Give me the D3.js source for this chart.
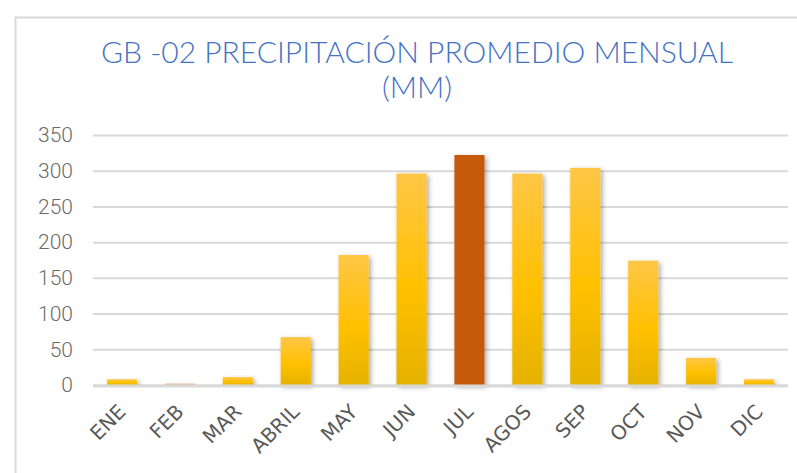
<!DOCTYPE html>
<html>
<head>
<meta charset="utf-8">
<script src="https://cdn.jsdelivr.net/npm/d3@7"></script>
<style>
  html, body { margin: 0; padding: 0; background: #fff; }
  svg { display: block; }
</style>
</head>
<body>
<svg id="chart" width="797" height="473"></svg>
<script>
// Monthly average precipitation (mm), station GB-02
const months = ["ENE", "FEB", "MAR", "ABRIL", "MAY", "JUN", "JUL", "AGOS", "SEP", "OCT", "NOV", "DIC"];
const precip = [8, 2, 11, 67, 182, 296, 322, 296, 304, 174, 38, 8];
const yTicks = [0, 50, 100, 150, 200, 250, 300, 350];
const titleLines = ["GB -02 PRECIPITACIÓN PROMEDIO MENSUAL", "(MM)"];

const W = 797, H = 473;
const margin = { left: 93, right: 9, top: 135, bottom: 88 };
const plotW = W - margin.left - margin.right;
const plotH = H - margin.top - margin.bottom;

const svg = d3.select("#chart");
const defs = svg.append("defs");

// gold gradient for regular bars
const grad = defs.append("linearGradient")
  .attr("id", "gold").attr("x1", 0).attr("y1", 0).attr("x2", 0).attr("y2", 1);
grad.append("stop").attr("offset", "0%").attr("stop-color", "#ffc646");
grad.append("stop").attr("offset", "55%").attr("stop-color", "#ffc000");
grad.append("stop").attr("offset", "100%").attr("stop-color", "#e5b200");

// soft drop shadow under the bars
const shadow = defs.append("filter").attr("id", "shadow")
  .attr("x", "-50%").attr("y", "-20%").attr("width", "200%").attr("height", "140%");
shadow.append("feDropShadow")
  .attr("dx", 2).attr("dy", 2).attr("stdDeviation", 2.5)
  .attr("flood-color", "#000").attr("flood-opacity", 0.35);

// outer chart frame
svg.append("rect")
  .attr("x", 15.5).attr("y", 17.5).attr("width", W + 10).attr("height", H + 10)
  .attr("fill", "none").attr("stroke", "#d9d9d9").attr("stroke-width", 2);

// title
svg.append("g").selectAll("text").data(titleLines).join("text")
  .attr("x", 417).attr("y", (d, i) => 63 + i * 35)
  .attr("text-anchor", "middle")
  .attr("font-family", "Lato, sans-serif").attr("font-weight", 300)
  .attr("font-size", 30).attr("fill", "#4472c4")
  .text(d => d);

const x = d3.scaleBand().domain(months).range([margin.left, margin.left + plotW]).paddingInner(0.48).paddingOuter(0.24);
const y = d3.scaleLinear().domain([0, 350]).range([margin.top + plotH, margin.top]);

// y axis (labels + gridlines)
const yAxis = svg.append("g")
  .attr("transform", `translate(${margin.left},0)`)
  .call(d3.axisLeft(y).tickValues(yTicks).tickSize(-plotW).tickPadding(20));
yAxis.select(".domain").remove();
yAxis.selectAll(".tick line").attr("stroke", "#d9d9d9").attr("stroke-width", 2);
yAxis.selectAll(".tick text")
  .attr("font-family", "Roboto, sans-serif").attr("font-weight", 300)
  .attr("font-size", 21).attr("fill", "#6b6b6b");

// bars
svg.append("g").selectAll("rect").data(months).join("rect")
  .attr("x", d => x(d))
  .attr("y", (d, i) => y(precip[i]))
  .attr("width", x.bandwidth())
  .attr("height", (d, i) => y(0) - y(precip[i]))
  .attr("fill", (d, i) => d === "JUL" ? "#c55a11" : (d === "FEB" ? "#e6b98a" : "url(#gold)"))
  .attr("filter", "url(#shadow)");

// baseline
svg.append("line")
  .attr("x1", margin.left).attr("x2", margin.left + plotW)
  .attr("y1", y(0) + 1).attr("y2", y(0) + 1)
  .attr("stroke", "#d9d9d9").attr("stroke-width", 3);

// rotated month labels
svg.append("g").selectAll("text").data(months).join("text")
  .attr("transform", d => `translate(${x(d) + x.bandwidth() / 2 + 5},${y(0) + 28}) rotate(-45)`)
  .attr("text-anchor", "end")
  .attr("font-family", "'DejaVu Sans', sans-serif")
  .attr("font-size", 20).attr("fill", "#595959")
  .text(d => d);
</script>
</body>
</html>
